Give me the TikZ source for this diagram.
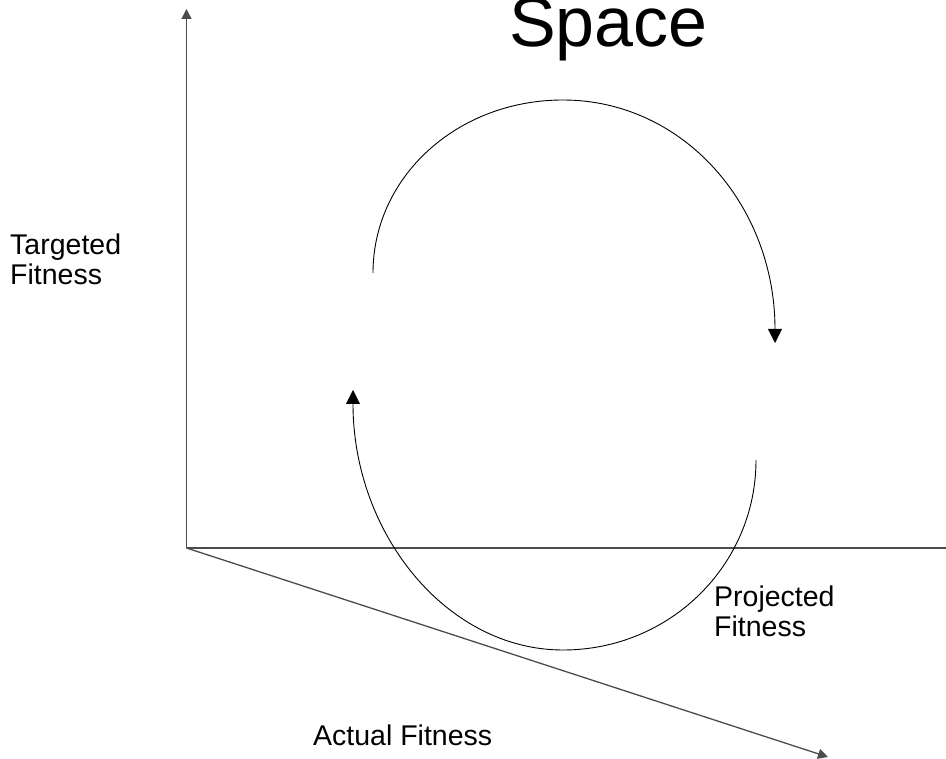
\documentclass[tikz,border=0pt]{standalone}
\usepackage{fontspec}
\setmainfont{Liberation Sans}
\usetikzlibrary{arrows.meta}
\begin{document}
\begin{tikzpicture}[x=1pt,y=-1pt,
  axis/.style={draw=black!70,line width=1.3pt},
  axtip/.style={-{Triangle[length=10pt,width=10pt]}},
  cyc/.style={draw=black,line width=0.9pt,-{Triangle[length=14pt,width=14pt]}},
  lbl/.style={inner sep=0pt,anchor=base west,font=\fontsize{28.5}{30}\selectfont},
  ttl/.style={inner sep=0pt,anchor=base west,font=\fontsize{70}{80}\selectfont}]
\useasboundingbox (0,0) rectangle (946,759);
% axes
\coordinate (O) at (186.5,548);
\coordinate (Ytop) at (186.5,9);
\coordinate (Xend) at (946,548);
\coordinate (Dend) at (828,757);
\draw[axis,axtip] (O) -- (Ytop);
\draw[axis] (O) -- (Xend);
\draw[axis,axtip] (O) -- (Dend);
% upper arc
\coordinate (U1) at (373,273);
\coordinate (U2) at (563,100);
\coordinate (U3) at (775,343);
\draw[cyc] (U1) .. controls (373,177) and (457,100) .. (U2)
  .. controls (683,100) and (775,205) .. (U3);
% lower arc
\coordinate (L1) at (756,460);
\coordinate (L2) at (563,650);
\coordinate (L3) at (353,390);
\draw[cyc] (L1) .. controls (756,565) and (670,650) .. (L2)
  .. controls (447,650) and (353,534) .. (L3);
% texts
\node[ttl] (title) at (509,47) {Space};
\node[lbl] (targ1) at (10,255) {Targeted};
\node[lbl] (targ2) at (10,285) {Fitness};
\node[lbl] (proj1) at (714,606) {Projected};
\node[lbl] (proj2) at (714,636) {Fitness};
\node[lbl] (act) at (313,745) {Actual Fitness};
\end{tikzpicture}
\end{document}
